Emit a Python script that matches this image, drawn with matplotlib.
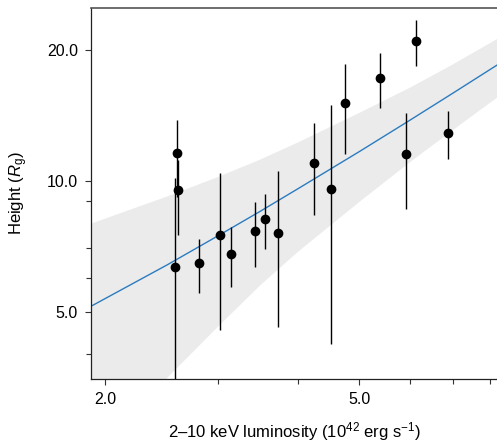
import matplotlib
matplotlib.use("Agg")
import matplotlib.pyplot as plt
import numpy as np
from matplotlib.ticker import FixedLocator, FixedFormatter, NullFormatter

plt.rcParams['font.family'] = ['Liberation Sans', 'DejaVu Sans']
plt.rcParams['mathtext.fontset'] = 'custom'
plt.rcParams['mathtext.rm'] = 'Liberation Sans'
plt.rcParams['mathtext.it'] = 'Liberation Sans:italic'

# measured sources: luminosity (1e42 erg/s), height (Rg) and error bar ends
lum = [2.57, 2.59, 2.60, 2.80, 3.02, 3.15, 3.43, 3.56, 3.73, 4.25, 4.52, 4.75, 5.39, 5.92, 6.12, 6.88]
height = [6.35, 11.6, 9.52, 6.47, 7.50, 6.81, 7.67, 8.18, 7.58, 11.0, 9.58, 15.08, 17.22, 11.54, 20.94, 12.87]
height_lo = [3.0, 9.2, 7.50, 5.54, 4.55, 5.72, 6.35, 6.99, 4.62, 8.37, 4.22, 11.52, 14.74, 8.64, 18.41, 11.22]
height_hi = [10.14, 13.83, 11.2, 7.36, 10.43, 7.85, 8.95, 9.34, 10.54, 13.59, 14.95, 18.6, 19.68, 14.33, 23.44, 14.50]

# fitted relation and its confidence band
fit_x = [1.85, 2.5, 3.0, 3.5, 4.0, 5.0, 6.0, 7.0, 8.5]
fit_y = [5.05, 6.42, 7.48, 8.53, 9.59, 11.69, 13.80, 15.91, 19.07]
band_lo = [2.2, 3.55, 4.65, 5.8, 6.9, 9.0, 11.1, 13.15, 16.2]
band_hi = [7.9, 9.25, 10.25, 11.25, 12.3, 14.4, 16.45, 18.6, 21.9]

xticks = [2.0, 5.0]
xticklabels = ['2.0', '5.0']
xminor = [3.0, 4.0, 6.0, 7.0, 8.0]
yticks = [5.0, 10.0, 20.0]
yticklabels = ['5.0', '10.0', '20.0']
yminor = [4.0, 6.0, 7.0, 9.0]

fig = plt.figure(figsize=(4.97, 4.46), dpi=100)
ax = fig.add_axes([91 / 497, 1 - 379 / 446, 1 - 91 / 497, 371 / 446])

ax.fill_between(fit_x, band_lo, band_hi, color='#ebebeb', lw=0, zorder=1)
ax.plot(fit_x, fit_y, color='#2b7bbf', lw=1.0, zorder=2)

err = [np.array(height) - np.array(height_lo), np.array(height_hi) - np.array(height)]
ax.errorbar(lum, height, yerr=err, fmt='o', color='black', ms=6, elinewidth=1.0,
            capsize=0, zorder=3)

ax.set_xscale('log')
ax.set_yscale('log')
ax.set_xlim(1.899, 8.21)
ax.set_ylim(3.51, 24.97)

ax.xaxis.set_major_locator(FixedLocator(xticks))
ax.xaxis.set_major_formatter(FixedFormatter(xticklabels))
ax.xaxis.set_minor_locator(FixedLocator(xminor))
ax.xaxis.set_minor_formatter(NullFormatter())
ax.yaxis.set_major_locator(FixedLocator(yticks))
ax.yaxis.set_major_formatter(FixedFormatter(yticklabels))
ax.yaxis.set_minor_locator(FixedLocator(yminor))
ax.yaxis.set_minor_formatter(NullFormatter())

ax.tick_params(which='major', length=4.5, width=0.8, labelsize=11.5, pad=5, color='#333333')
ax.tick_params(which='minor', length=3.5, width=0.8, color='#333333')

ax.spines['right'].set_visible(False)
ax.spines['top'].set_color('#555555')
ax.spines['top'].set_linewidth(1.2)
for s in ['left', 'bottom']:
    ax.spines[s].set_color('#222222')
    ax.spines[s].set_linewidth(0.9)

ax.set_xlabel(r'2–10 keV luminosity (10$^{42}$ erg s$^{-1}$)', fontsize=12, labelpad=9)
ax.set_ylabel(r'Height ($\mathit{R}_{\mathrm{g}}$)', fontsize=12, labelpad=12)

fig.savefig('out.png', dpi=100)
